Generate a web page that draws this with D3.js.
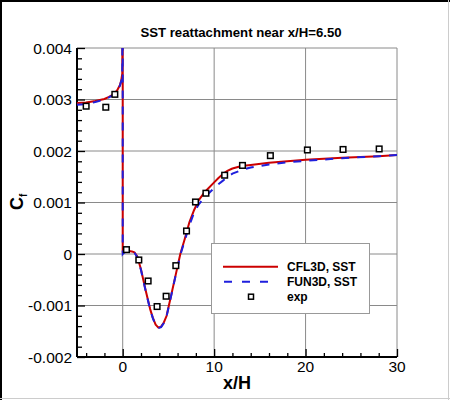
<!DOCTYPE html>
<html><head><meta charset="utf-8">
<script src="https://cdn.jsdelivr.net/npm/d3@7"></script>
<style>body{margin:0;background:#fff}svg{display:block}</style>
</head><body>
<svg id="c" width="450" height="400"></svg>
<script>
const titleText = "SST reattachment near x/H=6.50";
const xTicks = [0, 10, 20, 30];
const yTicks = [-0.002, -0.001, 0, 0.001, 0.002, 0.003, 0.004];
const yTickLabels = ["-0.002", "-0.001", "0", "0.001", "0.002", "0.003", "0.004"];
const legendLabels = ["CFL3D, SST", "FUN3D, SST", "exp"];

const cfl3dX = [-5, -4, -3, -2, -1.5, -1, -0.6, -0.3, -0.15, -0.05, 0, 0, 0.05, 0.3, 0.7, 1.0, 1.3, 1.6, 2.0, 2.5, 3.0, 3.3, 3.6, 3.9, 4.2, 4.5, 4.8, 5.3, 5.8, 6.3, 6.8, 7.3, 7.8, 8.3, 9, 10, 10.5, 11, 11.5, 12, 13, 14, 16, 18, 20, 24, 28, 30];
const cfl3dY = [0.00293, 0.00294, 0.00297, 0.00301, 0.00305, 0.0031, 0.00318, 0.00328, 0.00338, 0.0035, 0.006, 0.00003, 0.00003, 0.00005, 0.00006, 0.00005, 0.00003, -0.00005, -0.0003, -0.0007, -0.00107, -0.00124, -0.00137, -0.00143, -0.00141, -0.00133, -0.0012, -0.0008, -0.0004, 0.0, 0.0003, 0.00062, 0.00085, 0.00104, 0.00121, 0.00139, 0.00148, 0.00156, 0.00162, 0.00166, 0.00171, 0.00173, 0.00177, 0.0018, 0.00183, 0.00187, 0.0019, 0.00192];

const fun3dX = [-5, -4, -3, -2, -1.5, -1, -0.6, -0.3, -0.15, -0.05, 0, 0, 0.05, 0.3, 0.7, 1.0, 1.3, 1.6, 2.0, 2.5, 3.0, 3.3, 3.6, 3.9, 4.2, 4.5, 4.8, 5.3, 5.8, 6.3, 6.8, 7.3, 7.8, 8.3, 9, 10, 10.5, 11, 11.5, 12, 13, 14, 16, 18, 20, 24, 28, 30];
const fun3dY = [0.0029, 0.00291, 0.00295, 0.003, 0.00304, 0.00309, 0.00317, 0.00327, 0.00337, 0.0035, 0.006, 0.0, 0.00001, 0.00004, 0.00005, 0.00004, 0.00002, -0.00006, -0.00031, -0.00071, -0.00108, -0.00125, -0.00138, -0.00144, -0.00142, -0.00134, -0.00121, -0.00081, -0.00041, -0.00002, 0.00027, 0.00056, 0.0008, 0.00096, 0.00111, 0.00128, 0.00136, 0.00143, 0.0015, 0.00156, 0.00163, 0.00168, 0.00174, 0.00178, 0.00181, 0.00186, 0.0019, 0.00192];

const expX = [-4.0, -1.85, -0.86, 0.41, 1.76, 2.78, 3.76, 4.75, 5.81, 6.98, 7.96, 9.1, 11.15, 13.1, 16.15, 20.2, 24.1, 28.05];
const expY = [0.00287, 0.00285, 0.0031, 0.000085, -0.000116, -0.000524, -0.00102, -0.00082, -0.000226, 0.000447, 0.00101, 0.00118, 0.00153, 0.00172, 0.00191, 0.00202, 0.00203, 0.00204];

const svg = d3.select("#c");
const font = "'Liberation Sans', Arial, Helvetica, sans-serif";
const x = d3.scaleLinear().domain([-5, 30]).range([77, 397]);
const y = d3.scaleLinear().domain([-0.002, 0.004]).range([357, 48]);

// outer frame
svg.append("rect").attr("x", 0).attr("y", 0).attr("width", 450).attr("height", 400).attr("fill", "#fff");
svg.append("line").attr("x1", 0).attr("x2", 450).attr("y1", 1).attr("y2", 1).attr("stroke", "#000").attr("stroke-width", 2);
svg.append("line").attr("x1", 1).attr("x2", 1).attr("y1", 0).attr("y2", 400).attr("stroke", "#000").attr("stroke-width", 2);
svg.append("line").attr("x1", 448.5).attr("x2", 448.5).attr("y1", 0).attr("y2", 400).attr("stroke", "#ccc").attr("stroke-width", 1);
svg.append("line").attr("x1", 0).attr("x2", 450).attr("y1", 398.5).attr("y2", 398.5).attr("stroke", "#ccc").attr("stroke-width", 1);

// grid
const grid = svg.append("g").attr("stroke", "#8a8a8a").attr("stroke-width", 1);
xTicks.forEach(t => grid.append("line").attr("x1", x(t)).attr("x2", x(t)).attr("y1", y(0.004)).attr("y2", y(-0.002)));
yTicks.forEach(t => grid.append("line").attr("x1", x(-5)).attr("x2", x(30)).attr("y1", y(t)).attr("y2", y(t)));

// axes (ticks inward)
const yAxis = d3.axisRight(y).tickValues(yTicks).tickSize(8).tickFormat("");
const gy = svg.append("g").attr("transform", `translate(${x(-5)},0)`).call(yAxis);
const yMinor = d3.range(-0.002, 0.0040001, 0.0002).filter(v => !yTicks.some(t => Math.abs(t - v) < 1e-9));
svg.append("g").attr("transform", `translate(${x(-5)},0)`).call(d3.axisRight(y).tickValues(yMinor).tickSize(5).tickFormat(""))
  .call(g => g.select(".domain").remove());
const xAxis = d3.axisTop(x).tickValues(xTicks).tickSize(8).tickFormat("");
const gx = svg.append("g").attr("transform", `translate(0,${y(-0.002)})`).call(xAxis);
const xMinor = [-4, -2, 2, 4, 6, 8, 12, 14, 16, 18, 22, 24, 26, 28];
svg.append("g").attr("transform", `translate(0,${y(-0.002)})`).call(d3.axisTop(x).tickValues(xMinor).tickSize(4).tickFormat(""))
  .call(g => g.select(".domain").remove());
svg.selectAll(".tick line").attr("stroke", "#000").attr("stroke-width", 1.3);
gy.select(".domain").attr("stroke", "#000").attr("stroke-width", 2).attr("d", `M0,${y(-0.002)}V${y(0.004)}`);
gx.select(".domain").attr("stroke", "#000").attr("stroke-width", 2).attr("d", `M${x(-5)},0H${x(30)}`);
svg.selectAll(".domain").attr("fill", "none");

// tick labels
yTicks.forEach((t, i) => svg.append("text").attr("x", 72).attr("y", y(t) + 5.6).attr("text-anchor", "end")
  .attr("font-family", font).attr("font-size", 15.5).text(yTickLabels[i]));
xTicks.forEach(t => svg.append("text").attr("x", x(t)).attr("y", 372).attr("text-anchor", "middle")
  .attr("font-family", font).attr("font-size", 15.5).text(t));

// title and axis titles
svg.append("text").attr("x", 241).attr("y", 36.8).attr("text-anchor", "middle").attr("font-family", font)
  .attr("font-weight", "bold").attr("font-size", 13.2).text(titleText);
svg.append("text").attr("x", 237).attr("y", 389).attr("text-anchor", "middle").attr("font-family", font)
  .attr("font-weight", "bold").attr("font-size", 18).text("x/H");
const yl = svg.append("text").attr("transform", "translate(23,210) rotate(-90)").attr("font-family", font)
  .attr("font-weight", "bold").attr("font-size", 18);
yl.append("tspan").text("C");
yl.append("tspan").attr("font-size", 10).attr("dy", 4).text("f");

// curves
svg.append("defs").append("clipPath").attr("id", "clip").append("rect")
  .attr("x", x(-5)).attr("y", y(0.004)).attr("width", x(30) - x(-5)).attr("height", y(-0.002) - y(0.004));
const line = d3.line().x(d => x(d[0])).y(d => y(d[1]));
const plot = svg.append("g").attr("clip-path", "url(#clip)");
plot.append("path").datum(d3.zip(cfl3dX, cfl3dY)).attr("d", line).attr("fill", "none")
  .attr("stroke", "#cc0000").attr("stroke-width", 2).attr("stroke-linejoin", "round");
plot.append("path").datum(d3.zip(fun3dX, fun3dY)).attr("d", line).attr("fill", "none")
  .attr("stroke", "#1f1fdd").attr("stroke-width", 2).attr("stroke-dasharray", "8,8");

// exp squares
svg.append("g").selectAll("rect").data(d3.zip(expX, expY)).join("rect")
  .attr("x", d => x(d[0]) - 2.8).attr("y", d => y(d[1]) - 2.8).attr("width", 5.6).attr("height", 5.6)
  .attr("fill", "#fff").attr("stroke", "#000").attr("stroke-width", 1.5);

// legend
const lg = svg.append("g");
lg.append("rect").attr("x", 211.5).attr("y", 243.5).attr("width", 158).attr("height", 70)
  .attr("fill", "#fff").attr("stroke", "#999").attr("stroke-width", 1);
lg.append("line").attr("x1", 223).attr("x2", 278).attr("y1", 266.7).attr("y2", 266.7).attr("stroke", "#cc0000").attr("stroke-width", 2);
lg.append("line").attr("x1", 224).attr("x2", 270).attr("y1", 281.7).attr("y2", 281.7).attr("stroke", "#1f1fdd").attr("stroke-width", 2).attr("stroke-dasharray", "8,10");
lg.append("rect").attr("x", 248.5).attr("y", 294.2).attr("width", 5).attr("height", 5).attr("fill", "#fff").attr("stroke", "#000").attr("stroke-width", 1.5);
legendLabels.forEach((t, i) => lg.append("text").attr("x", 287).attr("y", 271.2 + i * 15).attr("font-family", font)
  .attr("font-weight", "bold").attr("font-size", 12).text(t));
</script>
</body></html>
